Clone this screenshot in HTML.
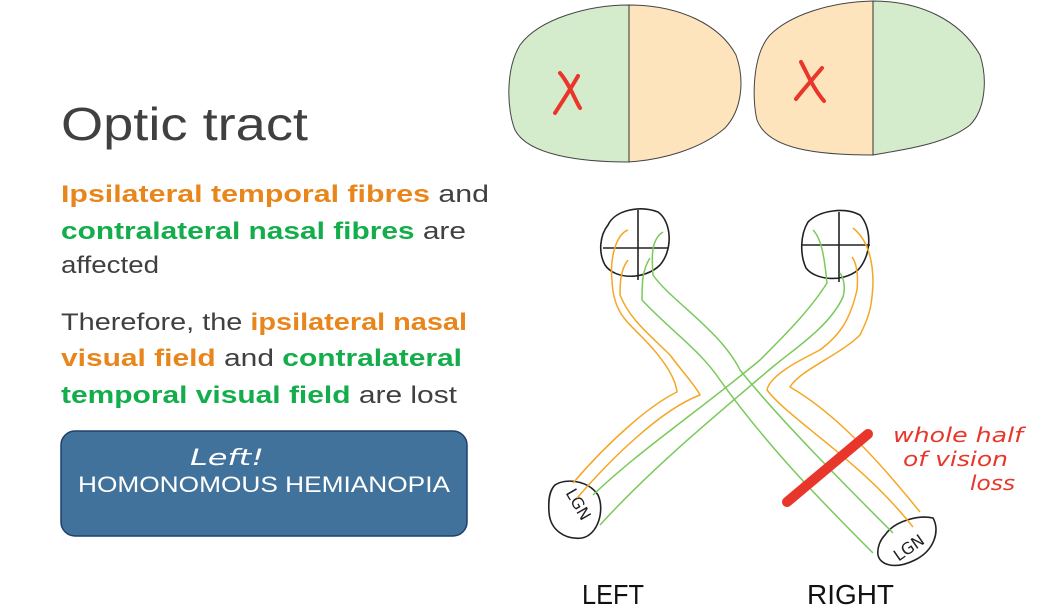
<!DOCTYPE html>
<html><head><meta charset="utf-8"><style>
html,body{margin:0;padding:0;background:#fff;}
svg{display:block;}
</style></head><body>
<svg width="1050" height="612" viewBox="0 0 1050 612" xmlns="http://www.w3.org/2000/svg" font-family="Liberation Sans, sans-serif">
<!-- left text -->
<text x="61" y="140" font-size="46" fill="#404040" textLength="247" lengthAdjust="spacingAndGlyphs">Optic tract</text>
<g font-size="24">
<text x="61" y="202" textLength="428" lengthAdjust="spacingAndGlyphs"><tspan fill="#e8861c" font-weight="bold">Ipsilateral temporal fibres</tspan><tspan fill="#404040"> and</tspan></text>
<text x="61" y="239" textLength="405" lengthAdjust="spacingAndGlyphs"><tspan fill="#13ad4b" font-weight="bold">contralateral nasal fibres</tspan><tspan fill="#404040"> are</tspan></text>
<text x="61" y="273" fill="#404040" textLength="98" lengthAdjust="spacingAndGlyphs">affected</text>
<text x="61" y="330" textLength="406" lengthAdjust="spacingAndGlyphs"><tspan fill="#404040">Therefore, the </tspan><tspan fill="#e8861c" font-weight="bold">ipsilateral nasal</tspan></text>
<text x="61" y="366" textLength="401" lengthAdjust="spacingAndGlyphs"><tspan fill="#e8861c" font-weight="bold">visual field</tspan><tspan fill="#404040"> and </tspan><tspan fill="#13ad4b" font-weight="bold">contralateral</tspan></text>
<text x="61" y="403" textLength="396" lengthAdjust="spacingAndGlyphs"><tspan fill="#13ad4b" font-weight="bold">temporal visual field</tspan><tspan fill="#404040"> are lost</tspan></text>
</g>
<rect x="61" y="431" width="406" height="105" rx="14" fill="#41729c" stroke="#1f3f6a" stroke-width="1.5"/>
<text x="190" y="465" font-size="22" fill="#fff" font-style="italic" font-family="DejaVu Sans, sans-serif" textLength="74" lengthAdjust="spacingAndGlyphs">Left!</text>
<text x="78" y="492" font-size="22" fill="#fff" textLength="372" lengthAdjust="spacingAndGlyphs">HOMONOMOUS HEMIANOPIA</text>

<!-- visual fields -->
<path d="M629,5 C590,5 540,18 520,45 C505,70 507,110 515,130 C528,155 580,162 629,162 Z" fill="#d4ebcc" stroke="#444" stroke-width="1"/>
<path d="M629,5 C680,5 720,25 736,55 C745,80 742,110 725,128 C700,150 660,160 629,162 Z" fill="#fde4bd" stroke="#444" stroke-width="1"/>
<line x1="629" y1="5" x2="629" y2="162" stroke="#333" stroke-width="1"/>
<path d="M873,1 C830,2 790,15 770,35 C752,55 752,100 757,120 C768,150 820,155 873,155 Z" fill="#fde4bd" stroke="#444" stroke-width="1"/>
<path d="M873,1 C920,1 960,20 980,55 C988,80 985,110 970,125 C945,145 900,150 873,155 Z" fill="#d4ebcc" stroke="#444" stroke-width="1"/>
<line x1="873" y1="1" x2="873" y2="155" stroke="#333" stroke-width="1"/>
<g stroke="#e8372a" stroke-width="4" fill="none" stroke-linecap="round">
<path d="M560,73 C570,85 575,100 580,108"/><path d="M578,76 C570,90 562,102 555,113"/>
<path d="M801,62 C808,75 813,88 824,101"/><path d="M822,68 C812,80 803,90 796,99"/>
</g>

<!-- eyes -->
<g stroke="#222" stroke-width="1.6" fill="none">
<path d="M608,225 C615,210 640,205 658,212 C672,222 673,250 660,265 C645,280 615,280 605,265 C598,252 600,235 608,225 Z"/>
<line x1="603" y1="248" x2="668" y2="248"/><line x1="638" y1="210" x2="638" y2="280"/>
<path d="M808,222 C820,210 845,207 860,215 C872,228 872,255 858,270 C842,283 815,280 806,268 C800,255 800,235 808,222 Z"/>
<line x1="802" y1="245" x2="870" y2="245"/><line x1="839" y1="212" x2="839" y2="282"/>
<path d="M555,485 C565,478 588,480 598,495 C605,510 598,535 582,538 C565,540 550,530 549,512 C548,498 550,490 555,485 Z"/>
<path d="M885,535 C895,520 920,515 933,518 C940,530 935,550 915,560 C895,570 880,565 878,555 C877,548 880,540 885,535 Z"/>
</g>
<text x="557" y="503" font-size="16" fill="#222" transform="rotate(60 570 505)" font-family="DejaVu Sans, sans-serif">LGN</text>
<text x="890" y="555" font-size="16" fill="#222" transform="rotate(-35 905 545)" font-family="DejaVu Sans, sans-serif">LGN</text>

<!-- fibres -->
<g fill="none" stroke-width="1.5" stroke-linejoin="round">
<path stroke="#f5a623" d="M628,230 C615,235 610,260 612,280 C613,310 625,320 640,335 C660,355 675,375 677,392 C650,405 610,440 573,483"/>
<path stroke="#f5a623" d="M628,260 C620,270 620,285 620,295 C630,320 650,335 670,355 C685,375 695,385 700,395 C660,410 610,460 577,498"/>
<path stroke="#7ac95a" d="M663,232 C650,240 652,260 653,275 C670,300 720,330 740,370 C780,420 850,490 893,533"/>
<path stroke="#7ac95a" d="M650,258 C642,270 642,285 642,300 C670,330 700,350 720,380 C770,450 830,510 873,553"/>
<path stroke="#7ac95a" d="M813,230 C823,240 825,265 827,283 C810,310 785,335 760,360 C700,410 640,450 593,495"/>
<path stroke="#7ac95a" d="M840,273 C845,280 845,290 843,297 C830,325 800,345 775,365 C710,420 650,470 600,525"/>
<path stroke="#f5a623" d="M853,228 C868,240 873,260 873,283 C872,305 870,315 860,335 C840,355 800,370 790,387 C830,410 870,450 920,512"/>
<path stroke="#f5a623" d="M852,257 C858,265 858,280 857,290 C850,320 840,335 820,350 C800,360 770,375 767,390 C790,420 860,460 913,527"/>
</g>
<line x1="787" y1="502" x2="868" y2="434" stroke="#e8372a" stroke-width="10" stroke-linecap="round"/>
<g fill="#e8372a" font-size="20" font-family="DejaVu Sans, sans-serif" font-style="italic">
<text x="893" y="442" textLength="130" lengthAdjust="spacingAndGlyphs">whole half</text>
<text x="903" y="466" textLength="105" lengthAdjust="spacingAndGlyphs">of vision</text>
<text x="970" y="490" textLength="45" lengthAdjust="spacingAndGlyphs">loss</text>
</g>
<text x="582" y="604" font-size="28" fill="#111" textLength="62" lengthAdjust="spacingAndGlyphs">LEFT</text>
<text x="807" y="604" font-size="28" fill="#111" textLength="87" lengthAdjust="spacingAndGlyphs">RIGHT</text>
</svg>
</body></html>
